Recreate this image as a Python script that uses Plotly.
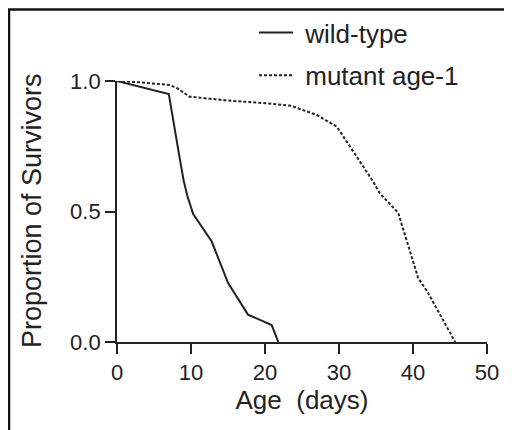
import plotly.graph_objects as go

# ---- data ----
wt_age = [0, 7, 8.5, 9.0, 9.5, 10.3, 12.8, 15.0, 17.7, 20.9, 21.8]
wt_surv = [1.0, 0.95, 0.70, 0.62, 0.56, 0.49, 0.385, 0.227, 0.105, 0.065, 0.0]

mut_age = [0, 3, 7, 8, 9.8, 15, 20, 23.5, 27, 29.7, 32.4, 34.6, 35.5, 38, 40.7, 42, 45.7]
mut_surv = [1.0, 0.995, 0.985, 0.975, 0.94, 0.925, 0.915, 0.905, 0.87, 0.825, 0.71, 0.615, 0.57, 0.495, 0.245, 0.19, 0.0]

x_ticks = [0, 10, 20, 30, 40, 50]
y_ticks = [0.0, 0.5, 1.0]
y_ticklabels = ["0.0", "0.5", "1.0"]

FONT = "Liberation Sans, Arial, Helvetica, sans-serif"
INK = "#222222"

fig = go.Figure()
fig.add_trace(go.Scatter(x=wt_age, y=wt_surv, mode="lines", name="\u00a0wild-type",
                         legendgroup="wt", line=dict(color=INK, width=2)))
fig.add_trace(go.Scatter(x=mut_age, y=mut_surv, mode="lines", name="\u00a0mutant age-1",
                         legendgroup="mut", line=dict(color=INK, width=2, dash="3px,2px")))

# page has an 8px body margin; work in figure pixels
OFF = 8
W, H = 512 - OFF, 430 - OFF
L, R, T, B = 117 - OFF, 512 - 487, 81 - OFF, 430 - 342
pw, ph = W - L - R, H - T - B

def px(xpage):
    return (xpage - OFF - L) / pw

def py(ypage):
    return 1 + (T - (ypage - OFF)) / ph

fig.update_layout(
    width=W, height=H,
    margin=dict(l=L, r=R, t=T, b=B, autoexpand=False),
    paper_bgcolor="white", plot_bgcolor="white",
    font=dict(family=FONT, color=INK),
    showlegend=True,
    legend=dict(x=px(254), y=py(9), xanchor="left", yanchor="top",
                font=dict(size=26, family=FONT, color=INK),
                bgcolor="rgba(0,0,0,0)", itemwidth=34, tracegroupgap=6,
                traceorder="grouped"),
    xaxis=dict(range=[0, 50], tickvals=x_ticks, showline=True, linecolor=INK, linewidth=1.8,
               ticks="outside", ticklen=10, tickwidth=1.8, tickcolor=INK,
               showgrid=False, zeroline=False,
               tickfont=dict(size=22, family=FONT, color=INK),
               title=dict(text="Age\u00a0\u00a0(days)\u00a0\u00a0", font=dict(size=26, family=FONT, color=INK), standoff=6)),
    yaxis=dict(range=[0, 1.0], tickvals=y_ticks, ticktext=y_ticklabels, showline=True,
               linecolor=INK, linewidth=1.8,
               ticks="outside", ticklen=10, tickwidth=1.8, tickcolor=INK,
               ticksuffix="\u00a0\u00a0\u00a0",
               showgrid=False, zeroline=False,
               tickfont=dict(size=22, family=FONT, color=INK)),
    annotations=[
        dict(text="Proportion of Survivors", textangle=-90, xref="paper", yref="paper",
             x=px(32), y=py(211), xanchor="center", yanchor="middle", showarrow=False,
             font=dict(size=27, family=FONT, color=INK)),
    ],
    shapes=[
        dict(type="line", xref="paper", yref="paper", x0=px(9), x1=px(9), y0=py(440), y1=py(9),
             line=dict(color="#111111", width=2.5)),
        dict(type="line", xref="paper", yref="paper", x0=px(8), x1=px(520), y0=py(9.5), y1=py(9.5),
             line=dict(color="#111111", width=2.5)),
    ],
)

fig.write_html("out.html")
